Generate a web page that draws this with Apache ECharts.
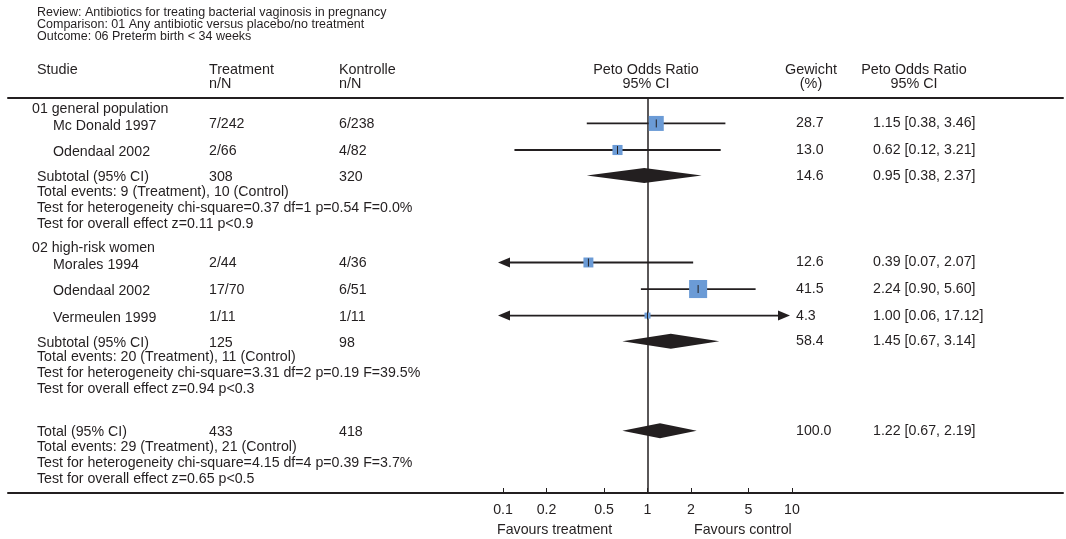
<!DOCTYPE html>
<html><head><meta charset="utf-8">
<script src="https://cdn.jsdelivr.net/npm/echarts@6/dist/echarts.min.js"></script>
<style>html,body{margin:0;padding:0;background:#fff}#c{width:1066px;height:539px}</style>
</head><body><div id="c"></div>
<script>
// ---------------- data ----------------
const titleLines = [
  'Review: Antibiotics for treating bacterial vaginosis in pregnancy',
  'Comparison: 01 Any antibiotic versus placebo/no treatment',
  'Outcome: 06 Preterm birth < 34 weeks'
];
const groupNames = ['01 general population', '02 high-risk women'];
const studyNames = [['Mc Donald 1997', 'Odendaal 2002'], ['Morales 1994', 'Odendaal 2002', 'Vermeulen 1999']];
const treatmentNN = [['7/242', '2/66'], ['2/44', '17/70', '1/11']];
const controlNN = [['6/238', '4/82'], ['4/36', '6/51', '1/11']];
const studyOR = [[1.15, 0.62], [0.39, 2.24, 1.00]];
const studyLower = [[0.38, 0.12], [0.07, 0.90, 0.06]];
const studyUpper = [[3.46, 3.21], [2.07, 5.60, 17.12]];
const studyWeight = [[28.7, 13.0], [12.6, 41.5, 4.3]];
const subtotalTreatmentN = ['308', '125'];
const subtotalControlN = ['320', '98'];
const subtotalOR = [0.95, 1.45];
const subtotalLower = [0.38, 0.67];
const subtotalUpper = [2.37, 3.14];
const subtotalWeight = [14.6, 58.4];
const groupStats = [
  ['Total events: 9 (Treatment), 10 (Control)',
   'Test for heterogeneity chi-square=0.37 df=1 p=0.54 F=0.0%',
   'Test for overall effect z=0.11 p<0.9'],
  ['Total events: 20 (Treatment), 11 (Control)',
   'Test for heterogeneity chi-square=3.31 df=2 p=0.19 F=39.5%',
   'Test for overall effect z=0.94 p<0.3']
];
const totalTreatmentN = '433';
const totalControlN = '418';
const totalOR = 1.22;
const totalLower = 0.67;
const totalUpper = 2.19;
const totalWeight = 100.0;
const totalStats = [
  'Total events: 29 (Treatment), 21 (Control)',
  'Test for heterogeneity chi-square=4.15 df=4 p=0.39 F=3.7%',
  'Test for overall effect z=0.65 p<0.5'
];
const tickValues = [0.1, 0.2, 0.5, 1, 2, 5, 10];
const favourLabels = ['Favours treatment', 'Favours control'];

// ---------------- style / layout ----------------
const INK = '#231f20';
const BLUE = '#6b9bd6';
const FONT = '"Liberation Sans", Arial, sans-serif';
const FS = 14.2;
const FS_HEAD = 14.4;
const FS_TITLE = 12.5;
const LINE = 16;           // px per layout unit
const TOP = 98, BOTTOM_Y = 493;
const COL = { group: 32, study: 53, stat: 37, treat: 209, ctrl: 339, weight: 796, ci: 873 };
const SQUARE_K = 2.8;

const fmtCI = (o, l, u) => o.toFixed(2) + ' [' + l.toFixed(2) + ', ' + u.toFixed(2) + ']';

// build rows (layout cursor in line units)
const texts = [];   // {x, y, dy, text, align}
const studies = []; // {y, or, lo, hi, w}
const diamonds = []; // {y, or, lo, hi}
let cur = 0.71;
groupNames.forEach((g, gi) => {
  if (gi > 0) cur += 1.55;
  texts.push({ x: COL.group, y: cur, dy: 0, text: g, align: 'left' });
  cur += 0.88;
  studyNames[gi].forEach((n, si) => {
    if (si > 0) cur += 1.66;
    texts.push({ x: COL.study, y: cur, dy: 2.5, text: n, align: 'left' });
    texts.push({ x: COL.treat, y: cur, dy: 1, text: treatmentNN[gi][si], align: 'left' });
    texts.push({ x: COL.ctrl, y: cur, dy: 1, text: controlNN[gi][si], align: 'left' });
    texts.push({ x: COL.weight, y: cur, dy: 0, text: studyWeight[gi][si].toFixed(1), align: 'left' });
    texts.push({ x: COL.ci, y: cur, dy: 0, text: fmtCI(studyOR[gi][si], studyLower[gi][si], studyUpper[gi][si]), align: 'left' });
    studies.push({ y: cur, or: studyOR[gi][si], lo: studyLower[gi][si], hi: studyUpper[gi][si], w: studyWeight[gi][si] });
  });
  cur += 1.6;
  texts.push({ x: COL.stat, y: cur, dy: 1.5, text: 'Subtotal (95% CI)', align: 'left' });
  texts.push({ x: COL.treat, y: cur, dy: 1.5, text: subtotalTreatmentN[gi], align: 'left' });
  texts.push({ x: COL.ctrl, y: cur, dy: 1.5, text: subtotalControlN[gi], align: 'left' });
  texts.push({ x: COL.weight, y: cur, dy: 0, text: subtotalWeight[gi].toFixed(1), align: 'left' });
  texts.push({ x: COL.ci, y: cur, dy: 0, text: fmtCI(subtotalOR[gi], subtotalLower[gi], subtotalUpper[gi]), align: 'left' });
  diamonds.push({ y: cur, or: subtotalOR[gi], lo: subtotalLower[gi], hi: subtotalUpper[gi] });
  groupStats[gi].forEach((s) => {
    cur += 1.0;
    texts.push({ x: COL.stat, y: cur, dy: 0, text: s, align: 'left' });
  });
});
cur += 2.6;
texts.push({ x: COL.stat, y: cur, dy: 1.5, text: 'Total (95% CI)', align: 'left' });
texts.push({ x: COL.treat, y: cur, dy: 1.5, text: totalTreatmentN, align: 'left' });
texts.push({ x: COL.ctrl, y: cur, dy: 1.5, text: totalControlN, align: 'left' });
texts.push({ x: COL.weight, y: cur, dy: 0, text: totalWeight.toFixed(1), align: 'left' });
texts.push({ x: COL.ci, y: cur, dy: 0, text: fmtCI(totalOR, totalLower, totalUpper), align: 'left' });
diamonds.push({ y: cur, or: totalOR, lo: totalLower, hi: totalUpper });
totalStats.forEach((s) => {
  cur += 1.0;
  texts.push({ x: COL.stat, y: cur, dy: 0, text: s, align: 'left' });
});

const Y_MAX = (BOTTOM_Y - TOP) / LINE;
const lg = Math.log10;

function txt(x, y, text, align, size) {
  return { type: 'text', x: x, y: y, style: { text: text, x: 0, y: 0, font: (size || FS) + 'px ' + FONT, fill: INK,
    align: align || 'left', verticalAlign: 'middle', textAlign: align || 'left', textVerticalAlign: 'middle' } };
}

const chart = echarts.init(document.getElementById('c'), null, { renderer: 'canvas' });

const hiddenY = (gi) => ({ type: 'value', gridIndex: gi, inverse: true, min: 0, max: Y_MAX,
  axisLine: { show: false }, axisTick: { show: false }, axisLabel: { show: false }, splitLine: { show: false } });

const option = {
  animation: false,
  backgroundColor: '#fff',
  grid: [
    { left: 503, width: 289, top: TOP, height: BOTTOM_Y - TOP },
    { left: 8, right: 3, top: TOP, height: BOTTOM_Y - TOP }
  ],
  xAxis: [
    { type: 'value', gridIndex: 0, min: lg(0.1), max: lg(10), position: 'bottom',
      axisLine: { show: false, onZero: false },
      axisTick: { show: true, inside: true, length: 5, customValues: tickValues.map(lg), lineStyle: { color: INK, width: 1 } },
      axisLabel: { show: true, margin: 10, customValues: tickValues.map(lg), color: INK, fontSize: FS, fontFamily: FONT,
        formatter: (v) => { const t = tickValues.find((tv) => Math.abs(lg(tv) - v) < 1e-6); return t === undefined ? '' : String(t); } },
      splitLine: { show: false } },
    { type: 'value', gridIndex: 1, min: 8, max: 1063, position: 'bottom',
      axisLine: { show: true, onZero: false, lineStyle: { color: INK, width: 2 } },
      axisTick: { show: false }, axisLabel: { show: false }, splitLine: { show: false } },
    { type: 'value', gridIndex: 1, min: 8, max: 1063, position: 'top',
      axisLine: { show: true, onZero: false, lineStyle: { color: INK, width: 2 } },
      axisTick: { show: false }, axisLabel: { show: false }, splitLine: { show: false } }
  ],
  yAxis: [
    Object.assign(hiddenY(0), { axisLine: { show: true, onZero: true, lineStyle: { color: INK, width: 1.5 } } }),
    hiddenY(1)
  ],
  series: [
    { // row texts
      type: 'custom', xAxisIndex: 1, yAxisIndex: 1, clip: false, silent: true,
      data: texts.map((t) => [t.x, t.y]),
      renderItem: (params, api) => {
        const t = texts[params.dataIndex];
        const p = api.coord([t.x, t.y]);
        return txt(p[0], p[1] + t.dy, t.text, t.align);
      }
    },
    { // study CIs and squares
      type: 'custom', xAxisIndex: 0, yAxisIndex: 0, clip: false, silent: true, z: 3,
      data: studies.map((s) => [lg(s.or), s.y]),
      renderItem: (params, api) => {
        const s = studies[params.dataIndex];
        const y = api.coord([0, s.y])[1];
        const xmin = api.coord([lg(0.1), s.y])[0];
        const xmax = api.coord([lg(10), s.y])[0];
        let x1 = api.coord([lg(s.lo), s.y])[0];
        let x2 = api.coord([lg(s.hi), s.y])[0];
        const xc = api.coord([lg(s.or), s.y])[0];
        const leftClip = x1 < xmin, rightClip = x2 > xmax;
        if (leftClip) x1 = xmin - 5;
        if (rightClip) x2 = xmax - 2;
        const ch = [];
        ch.push({ type: 'line', shape: { x1: leftClip ? x1 + 10 : x1, y1: y, x2: rightClip ? x2 - 10 : x2, y2: y },
          style: { stroke: INK, lineWidth: 1.8 } });
        if (leftClip) ch.push({ type: 'polygon', shape: { points: [[x1, y], [x1 + 12, y - 5], [x1 + 12, y + 5]] }, style: { fill: INK } });
        if (rightClip) ch.push({ type: 'polygon', shape: { points: [[x2, y], [x2 - 12, y - 5], [x2 - 12, y + 5]] }, style: { fill: INK } });
        const side = Math.max(6, SQUARE_K * Math.sqrt(s.w));
        ch.push({ type: 'rect', shape: { x: xc - side / 2, y: y - side / 2, width: side, height: side }, style: { fill: BLUE } });
        ch.push({ type: 'line', shape: { x1: xc, y1: y - 4, x2: xc, y2: y + 4 }, style: { stroke: INK, lineWidth: 1 } });
        return { type: 'group', children: ch };
      }
    },
    { // pooled diamonds
      type: 'custom', xAxisIndex: 0, yAxisIndex: 0, clip: false, silent: true, z: 3,
      data: diamonds.map((d) => [lg(d.or), d.y]),
      renderItem: (params, api) => {
        const d = diamonds[params.dataIndex];
        const pl = api.coord([lg(d.lo), d.y]);
        const pc = api.coord([lg(d.or), d.y]);
        const pr = api.coord([lg(d.hi), d.y]);
        const h = 7.5;
        return { type: 'polygon', shape: { points: [[pl[0], pl[1]], [pc[0], pc[1] - h], [pr[0], pr[1]], [pc[0], pc[1] + h]] },
          style: { fill: INK } };
      }
    }
  ],
  graphic: [
    txt(37, 13, titleLines[0], 'left', FS_TITLE),
    txt(37, 25, titleLines[1], 'left', FS_TITLE),
    txt(37, 37, titleLines[2], 'left', FS_TITLE),
    txt(37, 70, 'Studie', 'left', FS_HEAD),
    txt(209, 70, 'Treatment', 'left', FS_HEAD),
    txt(209, 84, 'n/N', 'left', FS_HEAD),
    txt(339, 70, 'Kontrolle', 'left', FS_HEAD),
    txt(339, 84, 'n/N', 'left', FS_HEAD),
    txt(646, 70, 'Peto Odds Ratio', 'center', FS_HEAD),
    txt(646, 84, '95% CI', 'center', FS_HEAD),
    txt(811, 70, 'Gewicht', 'center', FS_HEAD),
    txt(811, 84, '(%)', 'center', FS_HEAD),
    txt(914, 70, 'Peto Odds Ratio', 'center', FS_HEAD),
    txt(914, 84, '95% CI', 'center', FS_HEAD),
    txt(497, 530, favourLabels[0], 'left'),
    txt(694, 530, favourLabels[1], 'left')
  ]
};
chart.setOption(option);
</script>
</body></html>
